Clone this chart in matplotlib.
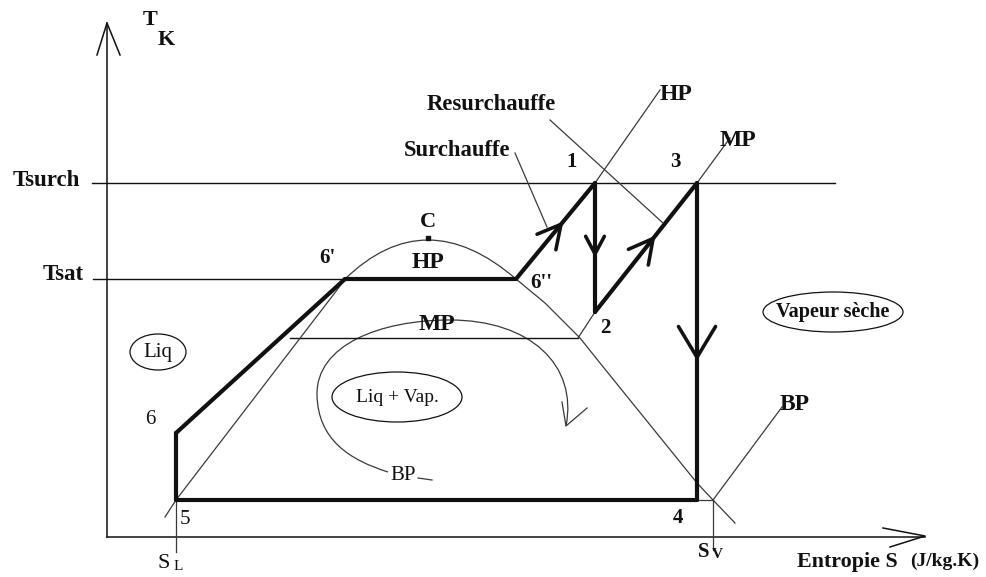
import numpy as np
import matplotlib
matplotlib.use("Agg")
import matplotlib.pyplot as plt
from matplotlib.path import Path
from matplotlib.patches import PathPatch, Ellipse

# ---- data (diagram coordinates: S to the right, T downward in image units) ----
cycle_names = ["5", "6", "6'", "6''", "1", "2", "3", "4"]
cycle_S = [176, 176, 345, 516, 595, 595, 697, 697]
cycle_T = [500, 433, 279, 279, 183, 312, 183, 500]

T_surch = 183
T_sat = 279
T_mp = 338
S_L = 176
S_V = 713

dome_left_S = [165, 176, 337, 345]
dome_left_T = [517, 500, 290, 279]
dome_top_S = [345, 425.5, 516]       # quadratic bezier: 6' -> ctrl -> 6''
dome_top_T = [279, 201, 279]
dome_right_S = [516, 545, 580, 600, 697, 713, 735]
dome_right_T = [279, 303, 338, 363, 483, 500, 523]

iso_hp_S = [595, 660]; iso_hp_T = [183, 90]
iso_mp_S = [697, 730]; iso_mp_T = [183, 138]
iso_mp_low_S = [578, 595]; iso_mp_low_T = [338, 312]
iso_bp_S = [713, 782]; iso_bp_T = [500, 407]

BLACK = "#111111"
THIN = "#3a3a3a"

fig = plt.figure(figsize=(9.87, 5.77), dpi=100)
ax = fig.add_axes([0, 0, 1, 1])
ax.set_xlim(0, 987)
ax.set_ylim(577, 0)
ax.axis("off")

FONT = "Liberation Serif"

def txt(x, y, s, size=15, weight="bold", **kw):
    ax.text(x, y, s, fontsize=size, fontweight=weight, family=FONT,
            ha=kw.pop("ha", "center"), va=kw.pop("va", "center"), color=BLACK, **kw)

# ---- axes ----
ax.plot([107, 107], [537, 23], color=BLACK, lw=1.1)
ax.plot([97, 107, 120], [55, 23, 55], color=BLACK, lw=1.1)
ax.plot([107, 925], [537, 537], color=BLACK, lw=1.1)
ax.plot([883, 925, 890], [528, 536, 547], color=BLACK, lw=1.1)

# horizontal reference lines
ax.plot([92, 835], [T_surch, T_surch], color=BLACK, lw=1.0)
ax.plot([93, cycle_S[2]], [T_sat, T_sat], color=BLACK, lw=1.0)
ax.plot([290, 578], [T_mp, T_mp], color=BLACK, lw=1.0)

# vertical SL / SV lines
ax.plot([S_L, S_L], [500, 552], color=THIN, lw=0.9)
ax.plot([S_V, S_V], [500, 550], color=THIN, lw=0.9)

# ---- saturation dome ----
ax.plot(dome_left_S, dome_left_T, color=THIN, lw=0.9)
top = Path(list(zip(dome_top_S, dome_top_T)), [Path.MOVETO, Path.CURVE3, Path.CURVE3])
ax.add_patch(PathPatch(top, fill=False, edgecolor=THIN, lw=0.9))
ax.plot(dome_right_S, dome_right_T, color=THIN, lw=0.9)
ax.plot([428], [238], marker="s", ms=2.5, color=BLACK)

# isobars (thin)
for xs, ys in [(iso_hp_S, iso_hp_T), (iso_mp_S, iso_mp_T),
               (iso_mp_low_S, iso_mp_low_T), (iso_bp_S, iso_bp_T)]:
    ax.plot(xs, ys, color=THIN, lw=0.9)
ax.plot([cycle_S[7], S_V], [500, 500], color=THIN, lw=0.9)

# ---- cycle (thick) ----
LW = 3.0
seg_pairs = [(0, 1), (1, 2), (2, 3), (3, 4), (4, 5), (5, 6), (6, 7), (7, 0)]
for a, b in seg_pairs:
    ax.plot([cycle_S[a], cycle_S[b]], [cycle_T[a], cycle_T[b]], color=BLACK,
            lw=LW, solid_capstyle="round", solid_joinstyle="round")

def vee(a, b, frac, length, half_angle):
    p0 = np.array([cycle_S[a], cycle_T[a]], float)
    p1 = np.array([cycle_S[b], cycle_T[b]], float)
    apex = p0 + frac * (p1 - p0)
    back = (p0 - p1) / np.linalg.norm(p0 - p1)
    pts = []
    for sgn in (1, -1):
        ang = np.deg2rad(sgn * half_angle)
        r = np.array([[np.cos(ang), -np.sin(ang)], [np.sin(ang), np.cos(ang)]])
        pts.append(apex + length * (r @ back))
    ax.plot([pts[0][0], apex[0], pts[1][0]], [pts[0][1], apex[1], pts[1][1]],
            color=BLACK, lw=LW * 0.85, solid_capstyle="round", solid_joinstyle="miter")

vee(3, 4, 0.57, 26, 28)   # 6'' -> 1
vee(4, 5, 0.55, 20, 28)   # 1 -> 2
vee(5, 6, 0.57, 27, 28)   # 2 -> 3
vee(6, 7, 0.55, 36, 31)   # 3 -> 4

# leader lines
ax.plot([550, 663], [120, 223], color=THIN, lw=0.9)
ax.plot([515, 547], [153, 227], color=THIN, lw=0.9)

# ---- spiral arrow (pressure decreasing) ----
spiral_verts = [(388, 472), (350, 460), (318, 440), (317, 395),
                (316, 345), (380, 320), (450, 320),
                (530, 320), (578, 365), (566, 426)]
spiral_codes = [Path.MOVETO] + [Path.CURVE4] * 9
ax.add_patch(PathPatch(Path(spiral_verts, spiral_codes), fill=False,
                       edgecolor=THIN, lw=0.9))
ax.plot([562, 566, 587], [402, 426, 408], color=THIN, lw=0.9)
ax.plot([418, 432], [478, 480], color=THIN, lw=0.9)

# ---- ellipses ----
for (cx, cy, w, h) in [(158, 352, 56, 36), (397, 397, 130, 50), (833, 312, 140, 40)]:
    ax.add_patch(Ellipse((cx, cy), w, h, fill=False, edgecolor=BLACK, lw=0.9))

# ---- texts ----
txt(150, 20, "T", 16)
txt(166, 40, "K", 16)
txt(46, 181, "Tsurch", 16.5)
txt(63, 275, "Tsat", 16.5)
txt(327, 258, "6'", 15)
txt(428, 222, "C", 16)
txt(428, 262, "HP", 17)
txt(437, 325, "MP", 17)
txt(541, 283, "6''", 15)
txt(572, 162, "1", 15)
txt(675, 162, "3", 15)
txt(605, 328, "2", 15)
txt(676, 94, "HP", 17)
txt(738, 140, "MP", 17)
txt(491, 104, "Resurchauffe", 16.3)
txt(457, 150, "Surchauffe", 16.3)
txt(833, 312, "Vapeur sèche", 14.5)
txt(795, 405, "BP", 17)
txt(158, 352, "Liq", 15, weight="normal")
txt(397, 397, "Liq + Vap.", 14, weight="normal")
txt(403, 476, "BP", 15, weight="normal")
txt(150, 419, "6", 15, weight="normal")
txt(185, 520, "5", 15, weight="normal")
txt(678, 518, "4", 15)
txt(164, 563, "S", 16, weight="normal")
txt(178, 566, "L", 11, weight="normal")
txt(704, 552, "S", 15)
txt(717, 554, "V", 11)
txt(797, 562, "Entropie S", 15.8, ha="left")
txt(910, 561, "(J/kg.K)", 14, ha="left")

fig.savefig("out.png", dpi=100)
